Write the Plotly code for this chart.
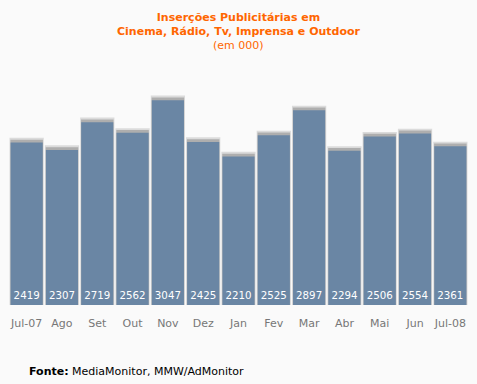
import plotly.graph_objects as go

months = ["Jul-07", "Ago", "Set", "Out", "Nov", "Dez", "Jan", "Fev", "Mar", "Abr", "Mai", "Jun", "Jul-08"]
values = [2419, 2307, 2719, 2562, 3047, 2425, 2210, 2525, 2897, 2294, 2506, 2554, 2361]

shadow_pad = 70  # visual shadow extension above bar top

fig = go.Figure()
fig.add_trace(go.Bar(
    x=months, y=[v + shadow_pad for v in values], width=0.97,
    marker=dict(color="rgba(150,150,150,0.3)", line=dict(width=0)),
    hoverinfo="skip", showlegend=False,
))
fig.add_trace(go.Bar(
    x=months, y=[v + shadow_pad * 0.6 for v in values], width=0.92,
    marker=dict(color="rgba(120,120,120,0.45)", line=dict(width=0)),
    hoverinfo="skip", showlegend=False,
))
fig.add_trace(go.Bar(
    x=months, y=values, width=0.91,
    marker=dict(color="#6a86a4", line=dict(width=0)),
    text=[str(v) for v in values], textposition="inside", insidetextanchor="start",
    textangle=0,
    textfont=dict(color="white", size=11, family="DejaVu Sans"),
    showlegend=False,
))

H = 384; W = 477; T = 85; B = 79; L = 9; R = 9
ph = H - T - B; pw = W - L - R
def px_y(y):
    return (H - B - y) / ph
def px_x(x):
    return (x - L) / pw

fig.update_layout(
    width=W, height=H,
    barmode="overlay",
    paper_bgcolor="#fafafa", plot_bgcolor="#fafafa",
    margin=dict(l=L, r=R, t=T, b=B),
    xaxis=dict(showgrid=False, showline=False, zeroline=False, ticks="",
               tickfont=dict(color="#777777", size=11, family="DejaVu Sans"),
               ticklabelstandoff=10),
    yaxis=dict(visible=False, range=[0, 3274]),
    font=dict(family="DejaVu Sans"),
    annotations=[
        dict(text="<b>Inserções Publicitárias em<br>Cinema, Rádio, Tv, Imprensa e Outdoor</b>",
             x=px_x(238.5), y=px_y(9), xref="paper", yref="paper", xanchor="center", yanchor="top",
             showarrow=False, font=dict(color="#ff6600", size=11, family="DejaVu Sans")),
        dict(text="(em 000)", x=px_x(238.5), y=px_y(37), xref="paper", yref="paper",
             xanchor="center", yanchor="top",
             showarrow=False, font=dict(color="#ff6600", size=11, family="DejaVu Sans")),
        dict(text="<b>Fonte:</b> MediaMonitor, MMW/AdMonitor",
             x=px_x(27), y=px_y(371), xref="paper", yref="paper", xanchor="left", yanchor="middle",
             showarrow=False, font=dict(color="#000000", size=11, family="DejaVu Sans")),
    ],
)

fig.write_html("out.html", config={"displayModeBar": False},
               post_script="document.body.style.margin='0';document.body.style.padding='0';document.body.style.background='#fafafa';")
